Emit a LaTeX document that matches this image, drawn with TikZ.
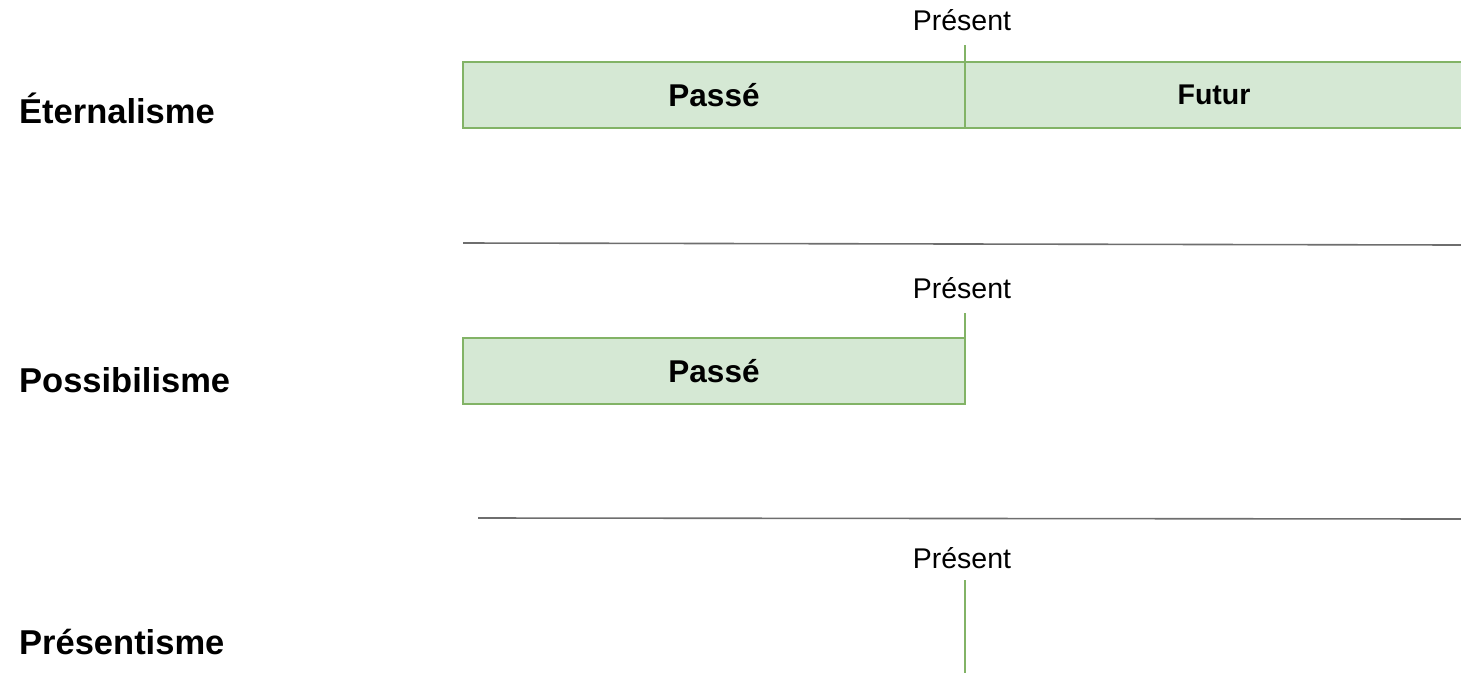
\documentclass[tikz,border=0pt]{standalone}
\usepackage{fontspec}
\setmainfont{Liberation Sans}
\definecolor{gfill}{HTML}{D5E8D4}
\definecolor{gline}{HTML}{82B366}
\definecolor{sep}{HTML}{6E6E6E}
\begin{document}
\begin{tikzpicture}[x=1pt,y=-1pt,
  theory/.style={anchor=west,font=\fontsize{34.5}{40}\selectfont\bfseries,inner sep=0pt},
  period/.style={draw=gline,fill=gfill,line width=1.4pt,minimum height=66pt,inner sep=0pt},
  periodtxt/.style={font=\fontsize{31.5}{36}\selectfont\bfseries},
  nowlabel/.style={font=\fontsize{28.5}{33}\selectfont,inner sep=0pt},
  tick/.style={draw=gline,line width=1.4pt},
  separator/.style={draw=sep,line width=1.6pt}]
\useasboundingbox (0,0) rectangle (1461,673);
\clip (0,0) rectangle (1461,673);
% labels
\node[theory] (eter) at (19,108) {Éternalisme};
\node[theory] (poss) at (19,380) {Possibilisme};
\node[theory] (pres) at (19,642) {Présentisme};
% row 1
\node[period,minimum width=502pt] (passe1) at (714,95) {};
\node[periodtxt] at (passe1.center) {Passé};
\node[period,minimum width=498pt] (futur1) at (1214,95) {};
\node[periodtxt,font=\fontsize{28.5}{33}\selectfont\bfseries] at (futur1.center) {Futur};
\node[nowlabel] (now1) at (962,20) {Présent};
\coordinate (t1) at (965,45);
\draw[tick] (t1) -- (t1 |- passe1.north);
% separator 1
\coordinate (s1a) at (463,243);
\coordinate (s1b) at (1461,245);
\draw[separator] (s1a) -- (s1b);
% row 2
\node[period,minimum width=502pt] (passe2) at (714,371) {};
\node[periodtxt] at (passe2.center) {Passé};
\node[nowlabel] (now2) at (962,288) {Présent};
\coordinate (t2) at (965,313);
\draw[tick] (t2) -- (t2 |- passe2.north);
% separator 2
\coordinate (s2a) at (478,518);
\coordinate (s2b) at (1461,519);
\draw[separator] (s2a) -- (s2b);
% row 3
\node[nowlabel] (now3) at (962,558) {Présent};
\coordinate (t3a) at (965,580);
\coordinate (t3b) at (965,673);
\draw[tick] (t3a) -- (t3b);
\end{tikzpicture}
\end{document}
